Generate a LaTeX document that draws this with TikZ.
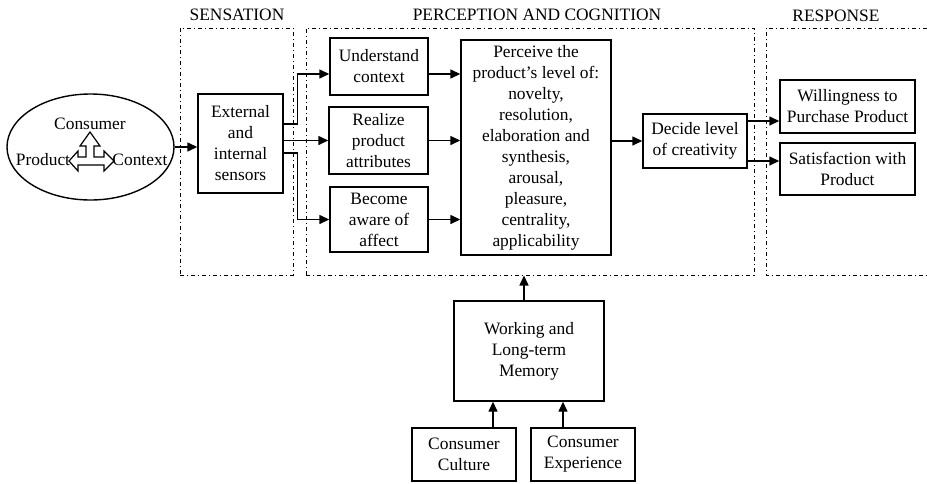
\documentclass[tikz,border=0pt]{standalone}
\usepackage{fontspec}
\setmainfont{Liberation Serif}
\usetikzlibrary{positioning,arrows.meta,calc,shapes.geometric}

\begin{document}
\begin{tikzpicture}[x=0.5pt, y=-0.5pt,
    font=\fontsize{8.7}{10.5}\selectfont,
    blk/.style={draw, line width=0.7pt, align=center, inner sep=0pt},
    grp/.style={draw, line width=0.5pt, dash pattern=on 2pt off 1.5pt on 0.5pt off 1.5pt, inner sep=0pt},
    arr/.style={line width=0.7pt, -{Triangle[length=5pt,width=4.5pt]}}]
  \useasboundingbox (0,0) rectangle (927,483);

  % Stage groups
  \node[grp, minimum width=56.5pt, minimum height=123.5pt] (sg) at (236.5,151.5) {};
  \node[grp, minimum width=224pt, minimum height=123.5pt] (pcg) at (530,151.5) {};
  \draw[line width=0.5pt, dash pattern=on 2pt off 1.5pt on 0.5pt off 1.5pt]
    (927,28) -- (766,28) -- (766,275) -- (927,275);
  \node (sgl) at (237,15) {SENSATION};
  \node (pcgl) at (537,15) {PERCEPTION AND COGNITION};
  \node (rsgl) at (836,16) {RESPONSE};

  % Consumer, product and context
  \node[ellipse, draw, line width=0.7pt, minimum width=83.5pt, minimum height=53pt] (env) at (90.5,147) {};
  \node (cons) at (90,124) {Consumer};
  \node (prod) at (43,160) {Product};
  \node (ctx) at (140,160) {Context};
  \draw[line width=0.6pt, fill=white] (69,161) -- (78,151) -- (78,157) -- (86,157) -- (86,146)
    -- (80,146) -- (90,132) -- (100,146) -- (94,146) -- (94,157) -- (104,157) -- (104,151)
    -- (114,161) -- (104,171) -- (104,165) -- (78,165) -- (78,171) -- cycle;

  % Sensation
  \node[blk, minimum width=42.5pt, minimum height=49.5pt] (sens) at (240.5,143.5) {External\\and\\internal\\sensors};

  % Perception and cognition
  \node[blk, minimum width=49pt, minimum height=28.5pt] (und) at (379,66.5) {Understand\\context};
  \node[blk, minimum width=49.5pt, minimum height=33.5pt] (rea) at (378.5,140.5) {Realize\\product\\attributes};
  \node[blk, minimum width=49pt, minimum height=32.5pt] (bec) at (379,219.5) {Become\\aware of\\affect};
  \node[blk, minimum width=75pt, minimum height=107.5pt] (perc) at (536,147.5)
    {Perceive the\\product's level of:\\novelty,\\resolution,\\elaboration and\\synthesis,\\arousal,\\pleasure,\\centrality,\\applicability};
  \node[blk, minimum width=52pt, minimum height=27pt] (dec) at (695,141) {Decide level\\of creativity};

  % Response
  \node[blk, minimum width=67.5pt, minimum height=26.5pt] (wil) at (847.5,106.5) {Willingness to\\Purchase Product};
  \node[blk, minimum width=67.5pt, minimum height=26pt] (sat) at (847.5,169) {Satisfaction with\\Product};

  % Memory and its sources
  \node[blk, minimum width=75pt, minimum height=50pt] (mem) at (529,351) {Working and\\Long-term\\Memory};
  \node[blk, minimum width=52pt, minimum height=26.5pt] (cul) at (464,454.5) {Consumer\\Culture};
  \node[blk, minimum width=52pt, minimum height=26.5pt] (exp) at (583,454.5) {Consumer\\Experience};

  % Connectors
  \coordinate (s1) at ($(sens.east)+(0,-19.5)$);
  \coordinate (s3) at ($(sens.east)+(0,9.5)$);
  \coordinate (undIn) at ($(und.west)+(0,7.5)$);
  \coordinate (d1) at ($(dec.east)+(0,-20)$);
  \coordinate (d2) at ($(dec.east)+(0,20)$);
  \coordinate (mL) at ($(mem.south)+(-36,0)$);
  \coordinate (mR) at ($(mem.south)+(34,0)$);

  \draw[arr] (env.east) -- (env.east -| sens.west);
  \draw[arr] (s1) -- ++(14,0) |- (undIn);
  \draw[arr] (sens.east |- rea.west) -- (rea.west);
  \draw[arr] (s3) -- ++(14,0) |- (bec.west);
  \draw[arr] (undIn -| und.east) -- (undIn -| perc.west);
  \draw[arr] (rea.east) -- (rea.east -| perc.west);
  \draw[arr] (bec.east) -- (bec.east -| perc.west);
  \draw[arr] (dec.west -| perc.east) -- (dec.west);
  \draw[arr] (d1) -- (d1 -| wil.west);
  \draw[arr] (d2) -- (d2 -| sat.west);
  \draw[arr] ($(mem.north)+(-5,0)$) -- ($(mem.north |- pcg.south)+(-5,0)$);
  \draw[arr] (mL |- cul.north) -- (mL);
  \draw[arr] (mR |- exp.north) -- (mR);
\end{tikzpicture}
\end{document}
